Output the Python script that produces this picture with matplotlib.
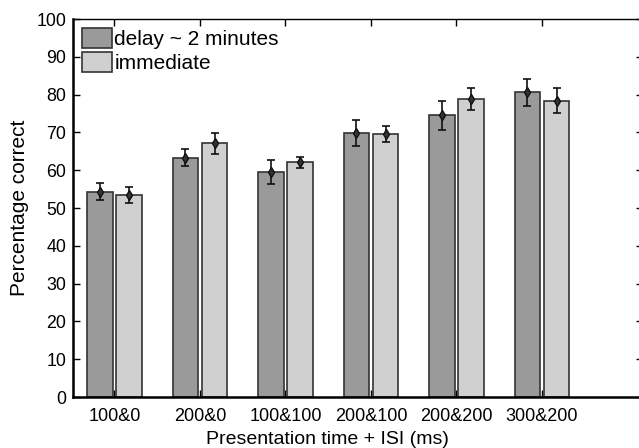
import matplotlib
matplotlib.use("Agg")
import matplotlib.pyplot as plt
import numpy as np

plt.rcParams['font.family'] = ['Liberation Sans', 'DejaVu Sans']

categories = ["100&0", "200&0", "100&100", "200&100", "200&200", "300&200"]
delay_vals = [54.3, 63.3, 59.5, 69.8, 74.5, 80.6]
delay_err = [2.2, 2.3, 3.2, 3.5, 3.8, 3.5]
immediate_vals = [53.4, 67.1, 62.1, 69.6, 78.8, 78.4]
immediate_err = [2.2, 2.8, 1.4, 2.1, 2.9, 3.4]
series_labels = ["delay ~ 2 minutes", "immediate"]
y_ticks = [0, 10, 20, 30, 40, 50, 60, 70, 80, 90, 100]

fig = plt.figure(figsize=(6.39, 4.48), dpi=100)
ax = fig.add_axes([73/639, 51/448, 570/639, 378/448])

x = np.arange(1, len(categories) + 1)
w = 0.30
off = 0.17
dark = "#999a99"
light = "#d0d0d0"
edge = "#333333"

ax.bar(x - off, delay_vals, w, color=dark, edgecolor=edge, linewidth=1.2, label=series_labels[0], zorder=2)
ax.bar(x + off, immediate_vals, w, color=light, edgecolor=edge, linewidth=1.2, label=series_labels[1], zorder=2)

for xs, vals, errs in [(x - off, delay_vals, delay_err), (x + off, immediate_vals, immediate_err)]:
    ax.errorbar(xs, vals, yerr=errs, fmt='d', color='#111111', markersize=5,
                markerfacecolor='#333333', markeredgecolor='#111111',
                ecolor='#111111', elinewidth=1.2, capsize=3.2, capthick=1.2, zorder=3)

ax.set_xlim(0.515, 0.515 + 570/85.5)
ax.set_ylim(0, 100)
ax.set_xticks(x)
ax.set_xticklabels(categories)
ax.set_yticks(y_ticks)
ax.tick_params(axis='both', direction='in', length=5, width=1.0, colors='black')
ax.tick_params(axis='x', top=True, bottom=True, labelsize=13, pad=8)
ax.tick_params(axis='y', left=True, right=True, labelsize=12.8, pad=5)

for s in ['left', 'bottom']:
    ax.spines[s].set_linewidth(1.8)
ax.spines['top'].set_linewidth(1.0)
ax.spines['right'].set_visible(False)

ax.set_ylabel("Percentage correct", fontsize=15, labelpad=5)
ax.set_xlabel("Presentation time + ISI (ms)", fontsize=14, labelpad=4)
ax.xaxis.set_label_coords(0.447, -0.09)

ax.legend(loc='upper left', frameon=False, fontsize=15, handlelength=1.42,
          handleheight=1.1, handletextpad=0.12, borderaxespad=0.25, labelspacing=0.12,
          borderpad=0.2)

fig.savefig("out.png", dpi=100)
